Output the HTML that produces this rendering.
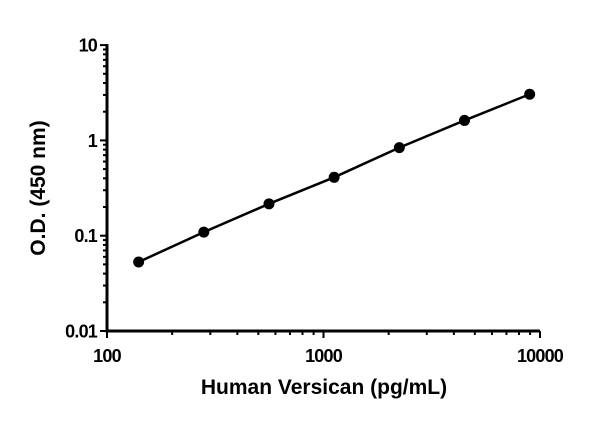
<!DOCTYPE html>
<html><head><meta charset="utf-8"><style>body{margin:0;background:#fff}svg{display:block}text{font-family:"Liberation Sans",sans-serif;font-weight:bold;fill:#000}</style></head>
<body>
<svg id="c" width="600" height="422"></svg>
<script>
const xValues=[140,280,560,1120,2240,4480,8960];
const yValues=[0.053,0.109,0.216,0.41,0.84,1.62,3.05];
const xTickLabels=["100","1000","10000"];
const yTickLabels=["0.01","0.1","1","10"];
const svg=document.getElementById('c');const NS='http://www.w3.org/2000/svg';
function X(v){return 107+(Math.log10(v)-2)*216.5;}
function Y(v){return 331-(Math.log10(v)+2)*95.3;}
function mk(t,a,txt){const e=document.createElementNS(NS,t);for(const k in a)e.setAttribute(k,a[k]);if(txt!==undefined)e.textContent=txt;svg.appendChild(e);return e;}
let e;
e=mk('line',{x1:107,y1:Y(10)-1,x2:107,y2:332.5,stroke:'#000','stroke-width':3});

e=mk('line',{x1:105.5,y1:331,x2:X(10000),y2:331,stroke:'#000','stroke-width':3});

for(let d=-2;d<=1;d++){for(let m=1;m<=9;m++){const v=m*Math.pow(10,d);if(d==1&&m>1)break;
 e=mk('line',{x1:m==1?100:103,y1:Y(v),x2:107,y2:Y(v),stroke:'#000','stroke-width':2});
 }}
for(let d=2;d<=4;d++){for(let m=1;m<=9;m++){const v=m*Math.pow(10,d);if(d==4&&m>1)break;
 e=mk('line',{x1:X(v),y1:331,x2:X(v),y2:m==1?338:335,stroke:'#000','stroke-width':2});
 }}
yTickLabels.forEach((l,i)=>{e=mk('text',{x:97,y:Y(Math.pow(10,i-2))+6.5,'text-anchor':'end','font-size':18,'letter-spacing':'-0.8'},l);
 });
xTickLabels.forEach((l,i)=>{e=mk('text',{x:X(Math.pow(10,i+2)),y:362,'text-anchor':'middle','font-size':18,'letter-spacing':'-0.8'},l);
 });
e=mk('text',{x:324,y:394,'text-anchor':'middle','font-size':21},'Human Versican (pg/mL)');

e=mk('text',{x:0,y:0,'text-anchor':'middle','font-size':21,transform:'translate(45,188) rotate(-90)'},'O.D. (450 nm)');

e=mk('polyline',{points:xValues.map((x,i)=>X(x)+','+Y(yValues[i])).join(' '),fill:'none',stroke:'#000','stroke-width':2.5});

xValues.forEach((x,i)=>{e=mk('circle',{cx:X(x),cy:Y(yValues[i]),r:5.5,fill:'#000'});
 });
</script>
</body></html>
